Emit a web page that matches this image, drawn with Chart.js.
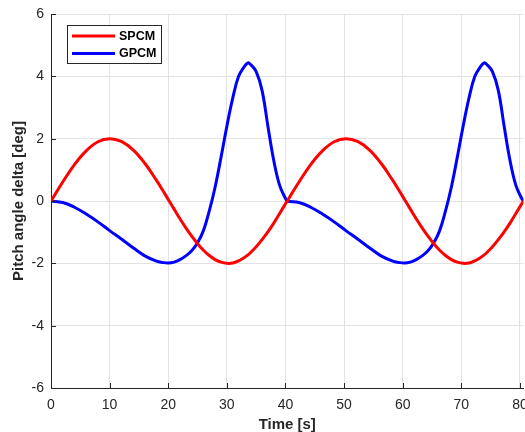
<!DOCTYPE html>
<html>
<head>
    <title>Pitch angle delta</title>
    <script src="https://cdn.jsdelivr.net/npm/chart.js"></script>
    <style>
        html, body {
            margin: 0;
            padding: 0;
            background: #fff;
            overflow: hidden;
        }
        #wrap {
            width: 525px;
            height: 436px;
        }
    </style>
</head>
<body>
    <div id="wrap"><canvas id="chart"></canvas></div>
    <script>
        // sample times [s], shared by both series
        var times = [0, 2, 4, 6, 8, 10, 12, 14, 16, 18, 19, 20, 21, 22, 23, 24, 25, 26, 27, 28, 29, 30, 31, 32, 33, 33.6, 34, 35, 36, 37, 38, 39, 40, 40.3,
            42.3, 44.3, 46.3, 48.3, 50.3, 52.3, 54.3, 56.3, 58.3, 59.3, 60.3, 61.3, 62.3, 63.3, 64.3, 65.3, 66.3, 67.3, 68.3, 69.3, 70.3, 71.3, 72.3, 73.3, 73.9, 74.3, 75.3, 76.3, 77.3, 78.3, 79.3, 80.3, 80.6];

        var spcm = [0, 0.61, 1.17, 1.61, 1.90, 2.0, 1.91, 1.64, 1.21, 0.66, 0.36, 0.05, -0.26, -0.57, -0.86, -1.13, -1.37, -1.58, -1.75, -1.88, -1.96, -2.0, -1.99, -1.92, -1.81, -1.73, -1.66, -1.47, -1.24, -0.99, -0.71, -0.40, -0.09, 0,
            0.61, 1.17, 1.61, 1.90, 2.0, 1.91, 1.64, 1.21, 0.66, 0.36, 0.05, -0.26, -0.57, -0.86, -1.13, -1.37, -1.58, -1.75, -1.88, -1.96, -2.0, -1.99, -1.92, -1.81, -1.73, -1.66, -1.47, -1.24, -0.99, -0.71, -0.40, -0.09, 0];

        var gpcm = [0, -0.05, -0.2, -0.42, -0.67, -0.95, -1.22, -1.5, -1.76, -1.93, -1.97, -1.99, -1.96, -1.88, -1.76, -1.6, -1.34, -0.95, -0.32, 0.45, 1.4, 2.4, 3.3, 4.0, 4.32, 4.43, 4.39, 4.15, 3.55, 2.4, 1.3, 0.5, 0.08, 0,
            -0.05, -0.2, -0.42, -0.67, -0.95, -1.22, -1.5, -1.76, -1.93, -1.97, -1.99, -1.96, -1.88, -1.76, -1.6, -1.34, -0.95, -0.32, 0.45, 1.4, 2.4, 3.3, 4.0, 4.32, 4.43, 4.39, 4.15, 3.55, 2.4, 1.3, 0.5, 0.08, 0];

        var xTicks = [0, 10, 20, 30, 40, 50, 60, 70, 80];
        var yTicks = [-6, -4, -2, 0, 2, 4, 6];

        var axisColor = '#262626';
        var gridColor = '#e3e3e3';
        var fontFamily = '"Liberation Sans", Arial, Helvetica, sans-serif';

        function points(ys) {
            return times.map(function (t, i) { return { x: t, y: ys[i] }; });
        }

        // MATLAB style: ticks drawn inside the axes
        var innerTicks = {
            id: 'innerTicks',
            afterDatasetsDraw: function (chart) {
                var ctx = chart.ctx, a = chart.chartArea;
                var xs = chart.scales.x, ys = chart.scales.y;
                ctx.save();
                ctx.strokeStyle = axisColor;
                ctx.lineWidth = 1;
                ctx.beginPath();
                xTicks.forEach(function (v) {
                    var px = Math.round(xs.getPixelForValue(v)) + 0.5;
                    ctx.moveTo(px, a.bottom);
                    ctx.lineTo(px, a.bottom - 5);
                });
                yTicks.forEach(function (v) {
                    var py = Math.round(ys.getPixelForValue(v)) + 0.5;
                    ctx.moveTo(a.left, py);
                    ctx.lineTo(a.left + 5, py);
                });
                ctx.stroke();
                ctx.restore();
            }
        };

        // legend box inside the axes, top left
        var boxLegend = {
            id: 'boxLegend',
            afterDraw: function (chart) {
                var ctx = chart.ctx;
                var x0 = 67.5, y0 = 25.5, w = 94, h = 38;
                ctx.save();
                ctx.fillStyle = '#fff';
                ctx.fillRect(x0, y0, w, h);
                ctx.strokeStyle = '#262626';
                ctx.lineWidth = 1;
                ctx.strokeRect(x0, y0, w, h);
                ctx.font = 'bold 12.5px ' + fontFamily;
                ctx.textBaseline = 'middle';
                chart.data.datasets.forEach(function (ds, i) {
                    var y = y0 + 10.5 + i * 17.5;
                    ctx.strokeStyle = ds.borderColor;
                    ctx.lineWidth = 3;
                    ctx.beginPath();
                    ctx.moveTo(x0 + 4.5, y);
                    ctx.lineTo(x0 + 47.5, y);
                    ctx.stroke();
                    ctx.fillStyle = '#000';
                    ctx.fillText(ds.label, x0 + 51.5, y + 0.5);
                });
                ctx.restore();
            }
        };

        var ctx = document.getElementById('chart').getContext('2d');
        var chart = new Chart(ctx, {
            type: 'line',
            data: {
                datasets: [{
                    label: 'SPCM',
                    data: points(spcm),
                    borderColor: '#ff0000',
                    borderWidth: 3,
                    pointRadius: 0,
                    tension: 0.4,
                    fill: false
                }, {
                    label: 'GPCM',
                    data: points(gpcm),
                    borderColor: '#0000ff',
                    borderWidth: 3,
                    pointRadius: 0,
                    tension: 0.4,
                    fill: false
                }]
            },
            options: {
                responsive: true,
                maintainAspectRatio: false,
                animation: false,
                events: [],
                layout: { padding: { top: 14, right: 1.5, bottom: 0, left: 0 } },
                plugins: {
                    legend: { display: false },
                    tooltip: { enabled: false }
                },
                scales: {
                    x: {
                        type: 'linear',
                        min: 0,
                        max: 80.6,
                        afterBuildTicks: function (s) { s.ticks = xTicks.map(function (v) { return { value: v }; }); },
                        afterFit: function (s) { s.height = 48; s.paddingLeft = 0; s.paddingRight = 0; },
                        grid: { color: gridColor, drawTicks: false },
                        border: { color: axisColor, width: 1 },
                        ticks: {
                            color: axisColor,
                            padding: 9,
                            maxRotation: 0,
                            autoSkip: false,
                            font: { family: fontFamily, size: 14 }
                        },
                        title: {
                            display: true,
                            text: 'Time [s]',
                            color: axisColor,
                            padding: { top: 0, bottom: 2 },
                            font: { family: fontFamily, size: 15, weight: 'bold' }
                        }
                    },
                    y: {
                        min: -6,
                        max: 6,
                        afterBuildTicks: function (s) { s.ticks = yTicks.map(function (v) { return { value: v }; }); },
                        afterFit: function (s) { s.width = 51; s.paddingTop = 0; s.paddingBottom = 0; },
                        grid: { color: gridColor, drawTicks: false },
                        border: { color: axisColor, width: 1 },
                        ticks: {
                            color: axisColor,
                            padding: 7,
                            autoSkip: false,
                            font: { family: fontFamily, size: 14 }
                        },
                        title: {
                            display: true,
                            text: 'Pitch angle delta [deg]',
                            color: axisColor,
                            padding: { top: 10, bottom: 0 },
                            font: { family: fontFamily, size: 15, weight: 'bold' }
                        }
                    }
                }
            },
            plugins: [innerTicks, boxLegend]
        });
    </script>
</body>
</html>
